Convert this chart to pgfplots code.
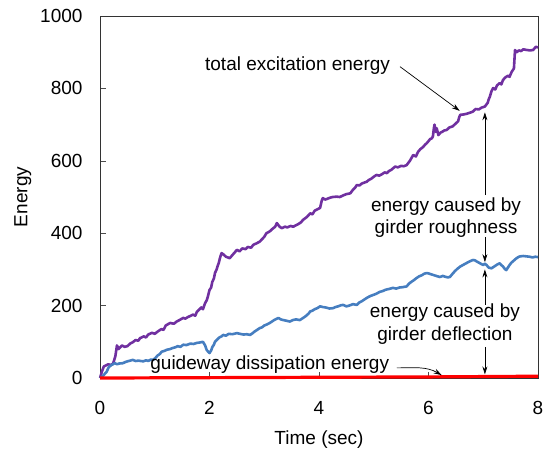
\documentclass[border=0pt]{standalone}
\usepackage{fontspec}
\setmainfont{Liberation Sans}
\usepackage{pgfplots}
\pgfplotsset{compat=1.18}
\usetikzlibrary{arrows.meta}

\definecolor{cpurple}{RGB}{112,48,160}
\definecolor{cblue}{RGB}{70,126,192}
\definecolor{cred}{RGB}{255,0,0}

\begin{document}
\begin{tikzpicture}
\fontsize{19}{22.5}\selectfont
\begin{axis}[
    scale only axis,
    width=438pt, height=362pt,
    xmin=0, xmax=8, ymin=0, ymax=1000,
    xtick={0,2,4,6,8}, ytick={0,200,400,600,800,1000},
    tick align=inside,
    major tick length=6pt,
    xtick pos=bottom, ytick pos=left,
    axis line style={black!80, line width=0.8pt},
    tick style={black!70, line width=0.6pt},
    /pgf/number format/assume math mode=true,
    /pgf/number format/1000 sep={},
    ticklabel style={font=\fontsize{19}{22.5}\selectfont},
    label style={font=\fontsize{19}{22.5}\selectfont},
    xticklabel style={anchor=center, yshift=-30pt},
    yticklabel style={anchor=east, xshift=-11pt},
    xlabel={Time (sec)},
    ylabel={Energy},
    xlabel style={at={(axis description cs:0.5,-0.171)}, anchor=center},
    ylabel style={at={(axis description cs:-0.176,0.50)}, anchor=center},
    clip=false,
]
% total excitation energy
\addplot[cpurple, line width=2.6pt, line join=round] coordinates {
(0,0) (0.04,20) (0.07,32) (0.15,38) (0.20,36) (0.24,40) (0.28,60) (0.31,90) (0.34,80)
(0.40,90) (0.45,86) (0.50,88) (0.55,95) (0.60,99) (0.65,105) (0.70,103) (0.73,110) (0.80,115) (0.84,112) (0.88,120)
(0.95,125) (1.00,122) (1.05,128) (1.12,135) (1.16,133) (1.20,145) (1.28,152) (1.35,150) (1.40,156) (1.45,160)
(1.52,166) (1.56,164) (1.60,168) (1.70,175) (1.74,172) (1.77,183) (1.85,195) (1.88,190) (1.92,207) (1.95,215) (1.97,225)
(2.00,243) (2.03,250) (2.05,265) (2.08,275) (2.10,290) (2.13,300) (2.15,310) (2.17,318) (2.19,331) (2.22,345) (2.25,342) (2.30,335)
(2.37,331) (2.42,340) (2.45,345) (2.50,354) (2.55,350) (2.60,358) (2.66,356) (2.70,362) (2.76,360) (2.80,368) (2.86,372) (2.92,377)
(3.00,390) (3.04,400) (3.10,405) (3.15,412) (3.20,418) (3.23,428) (3.28,418) (3.32,414) (3.38,418) (3.42,416)
(3.48,420) (3.53,418) (3.58,422) (3.62,425) (3.67,430) (3.71,437) (3.78,445) (3.84,455) (3.88,452) (3.92,462) (3.97,466) (4.02,470)
(4.05,490) (4.07,497) (4.11,493) (4.15,495) (4.20,498) (4.25,500) (4.32,501) (4.38,500) (4.45,505) (4.50,508) (4.57,510) (4.62,520) (4.66,526)
(4.69,533) (4.74,532) (4.78,537) (4.83,540) (4.87,542) (4.91,547) (4.95,550) (5.00,556) (5.05,561) (5.10,559) (5.15,563) (5.20,568) (5.24,566)
(5.28,572) (5.32,575) (5.39,584) (5.44,582) (5.50,586) (5.55,585) (5.60,588) (5.66,600) (5.72,616) (5.77,612) (5.81,625) (5.85,632) (5.90,638)
(5.94,645) (5.97,649) (6.03,660) (6.06,662) (6.08,667) (6.10,692) (6.11,700) (6.13,680) (6.15,690) (6.18,671) (6.22,678) (6.25,680)
(6.29,684) (6.33,685) (6.38,692) (6.44,695) (6.49,702) (6.54,709) (6.56,720) (6.58,727) (6.64,728) (6.70,730) (6.76,733) (6.81,736) (6.86,743) (6.92,742)
(6.97,747) (7.03,750) (7.08,760) (7.10,770) (7.12,777) (7.15,792) (7.18,801) (7.22,797) (7.25,808) (7.28,812) (7.30,815) (7.33,811) (7.36,823)
(7.40,830) (7.45,835) (7.48,832) (7.52,846) (7.56,855) (7.57,880) (7.58,906) (7.61,900) (7.65,905) (7.69,903) (7.73,908) (7.80,906) (7.85,905)
(7.91,906) (7.96,915) (8.00,913)
};
% energy from girder roughness
\addplot[cblue, line width=2.6pt, line join=round] coordinates {
(0,0) (0.05,5) (0.09,12) (0.12,17) (0.16,30) (0.20,35) (0.27,41) (0.31,38) (0.35,40) (0.42,41) (0.46,44) (0.50,46)
(0.55,48) (0.60,50) (0.65,47) (0.70,48) (0.79,46) (0.84,49) (0.88,47) (0.93,51) (0.97,50) (1.01,55) (1.05,62) (1.09,66) (1.13,73)
(1.18,75) (1.22,78) (1.28,80) (1.33,83) (1.38,85) (1.42,88) (1.47,86) (1.52,92) (1.58,91) (1.65,95) (1.71,94) (1.77,97) (1.82,98) (1.88,100)
(1.92,90) (1.95,77) (2.00,69) (2.03,76) (2.05,85) (2.08,92) (2.10,100) (2.14,106) (2.18,112) (2.22,115) (2.25,119) (2.30,117)
(2.35,122) (2.42,121) (2.50,124) (2.56,122) (2.62,120) (2.68,121) (2.74,119) (2.78,123) (2.82,128) (2.87,133) (2.92,138) (2.96,140) (3.00,145)
(3.05,148) (3.10,152) (3.14,156) (3.18,160) (3.22,163) (3.26,166) (3.30,162) (3.35,160) (3.41,158) (3.47,156) (3.52,160) (3.58,162) (3.65,160)
(3.71,166) (3.75,170) (3.78,174) (3.81,178) (3.84,184) (3.88,186) (3.92,190) (3.97,193) (4.02,198) (4.07,196) (4.12,195) (4.19,192) (4.26,193)
(4.30,196) (4.35,198) (4.40,201) (4.44,202) (4.50,198) (4.55,200) (4.62,204) (4.69,202) (4.73,208) (4.78,212) (4.82,216) (4.87,221) (4.93,226) (5.00,230)
(5.05,233) (5.11,238) (5.16,240) (5.22,244) (5.28,246) (5.35,249) (5.41,247) (5.47,250) (5.53,251) (5.60,253) (5.64,260) (5.68,265) (5.73,270) (5.78,276)
(5.83,281) (5.88,284) (5.92,288) (5.97,290) (6.02,288) (6.08,285) (6.14,282) (6.21,279) (6.26,282) (6.30,280) (6.35,278) (6.39,279) (6.44,288) (6.48,295)
(6.53,302) (6.58,308) (6.64,313) (6.70,318) (6.75,322) (6.81,326) (6.85,325) (6.88,322) (6.94,317) (7.00,312) (7.03,316) (7.06,312)
(7.10,305) (7.15,303) (7.19,307) (7.22,310) (7.26,314) (7.30,317) (7.33,312) (7.36,308) (7.39,302) (7.42,298) (7.45,305) (7.48,312)
(7.51,318) (7.54,322) (7.57,326) (7.60,330) (7.64,334) (7.67,336) (7.73,337) (7.79,336) (7.85,335) (7.90,333) (7.95,335) (8.00,334)
};
% guideway dissipation energy
\addplot[cred, line width=3.2pt] coordinates {
(0,0) (1,0.5) (2,1) (3,1.5) (4,2) (5,2.5) (6,3) (6.5,3.5) (7,4) (7.5,4.5) (8,5)
};

\node[anchor=east, inner sep=0pt] at (axis cs:5.30,862) {total excitation energy};
\draw[-{Stealth[length=8pt,width=5pt]}, line width=0.7pt] (axis cs:5.48,860) -- (axis cs:6.57,738);

\node[align=center, inner sep=0pt] at (axis cs:6.32,443) {energy caused by\\girder roughness};
\draw[-{Stealth[length=8pt,width=5pt]}, line width=0.7pt] (axis cs:7.03,505) -- (axis cs:7.03,734);
\draw[-{Stealth[length=8pt,width=5pt]}, line width=0.7pt] (axis cs:7.03,390) -- (axis cs:7.03,320);

\node[align=center, inner sep=0pt] at (axis cs:6.30,149) {energy caused by\\girder deflection};
\draw[-{Stealth[length=8pt,width=5pt]}, line width=0.7pt] (axis cs:7.03,202) -- (axis cs:7.03,300);
\draw[-{Stealth[length=8pt,width=5pt]}, line width=0.7pt] (axis cs:7.03,86) -- (axis cs:7.03,10);

\node[inner sep=0pt] at (axis cs:3.10,36) {guideway dissipation energy};
\draw[-{Stealth[length=8pt,width=5pt]}, line width=0.7pt] (axis cs:5.42,28) to[out=0, in=150] (axis cs:6.24,8);
\end{axis}
\pgfresetboundingbox
\path (current axis.south west) ++(-100pt,-75pt) rectangle ([shift={(12pt,16pt)}]current axis.north east);
\end{tikzpicture}
\end{document}
